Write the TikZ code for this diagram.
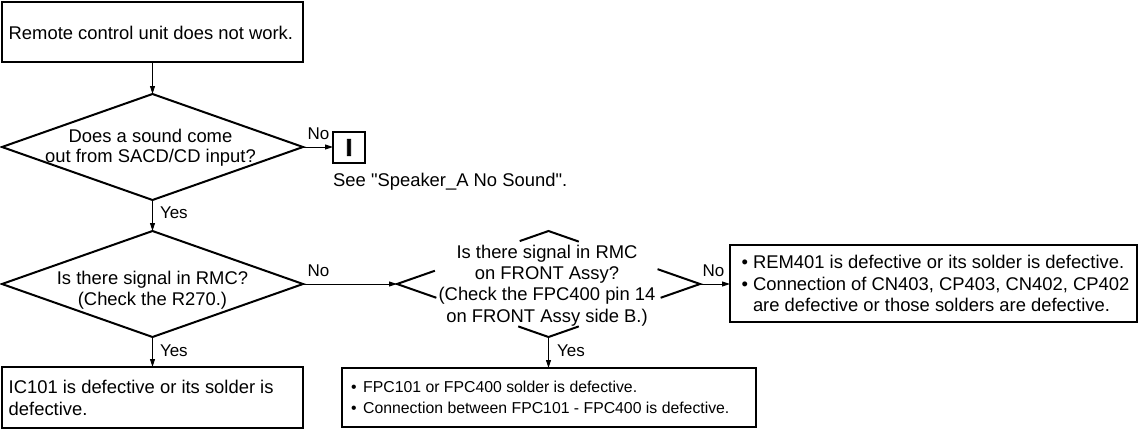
\documentclass[tikz,border=0pt]{standalone}
\usepackage{fontspec}
\setmainfont{Liberation Sans}
\newfontfamily\heavyfont{Liberation Sans}[BoldFeatures={FakeBold=2.5}]
\usetikzlibrary{shapes.geometric,arrows.meta,calc}
% bullet set in a box of fixed width, so that item texts line up
\newcommand\bulitem[1]{\makebox[#1][l]{\textbullet}}

\begin{document}
\begin{tikzpicture}[x=1pt,y=-1pt,
  body/.style={font=\fontsize{18.4}{21.3}\selectfont},
  small/.style={font=\fontsize{15.8}{21}\selectfont},
  lbl/.style={font=\fontsize{17}{20}\selectfont, inner sep=0pt},
  frame/.style={draw, line width=2.6pt, rectangle, outer sep=0pt, inner sep=0pt},
  boxtext/.style={body, align=left, inner sep=0pt, anchor=west},
  decision/.style={diamond, draw, line width=2pt, line join=miter, inner sep=0pt, outer sep=0pt},
  edgeline/.style={line width=2pt, line join=miter},
  question/.style={body, align=center, inner sep=0pt},
  flow/.style={line width=1pt, -{Triangle[length=8pt,width=5pt]}},
]
\useasboundingbox (0,0) rectangle (1139,431);

% start box
\node[frame, minimum width=301pt, minimum height=60pt] (start) at (152.5,32) {};
\node[boxtext] (starttext) at ($(start.west)+(6.5,0.5)$) {Remote control unit does not work.};

% first question
\node[decision, minimum width=301pt, minimum height=106pt] (d1) at (152.5,147) {};
\node[question, font=\fontsize{18.4}{20}\selectfont] (q1) at (150.5,147.3) {Does a sound come\\out from SACD/CD input?};

% reference mark and note
\node[frame, minimum width=32pt, minimum height=31pt, font=\heavyfont\bfseries\fontsize{24}{24}\selectfont] (ref) at (349,147.5) {I};
\node[body, anchor=base west, inner sep=0pt] (see) at (333,186) {See \textquotedbl Speaker\_A No Sound\textquotedbl.};

% second question
\node[decision, minimum width=301pt, minimum height=106pt] (d2) at (152.5,284) {};
\node[question] (q2) at (152.5,290.4) {Is there signal in RMC?\\(Check the R270.)};

% result box below second question
\node[frame, minimum width=301pt, minimum height=61pt] (ic) at (152.5,397.5) {};
\node[boxtext] (ictext) at ($(ic.west)+(6.5,0.3)$) {IC101 is defective or its solder is\\defective.};

% third question: diamond outline broken around its text
\node[decision, draw=none, minimum width=303pt, minimum height=106pt] (d3) at (548.5,284) {};
\draw[edgeline] ($(d3.west)!0.25!(d3.north)$) -- (d3.west) -- ($(d3.west)!0.26!(d3.south)$);
\draw[edgeline] ($(d3.north)!0.19!(d3.west)$) -- (d3.north) -- ($(d3.north)!0.2!(d3.east)$);
\draw[edgeline] ($(d3.east)!0.28!(d3.north)$) -- (d3.east) -- ($(d3.east)!0.26!(d3.south)$);
\draw[edgeline] ($(d3.south)!0.2!(d3.west)$) -- (d3.south) -- ($(d3.south)!0.2!(d3.east)$);
\node[question] (q3) at (547,285.3) {Is there signal in RMC\\on FRONT Assy?\\(Check the FPC400 pin 14\\on FRONT Assy side B.)};

% result boxes of third question
\node[frame, minimum width=407pt, minimum height=77pt] (rbox) at (933.5,283.5) {};
\node[boxtext] (rboxtext) at ($(rbox.west)+(11.5,0)$) {\bulitem{11.3pt}REM401 is defective or its solder is defective.\\\bulitem{11.3pt}Connection of CN403, CP403, CN402, CP402\\\hspace*{11.3pt}are defective or those solders are defective.};
\node[frame, minimum width=414pt, minimum height=59pt] (fpc) at (549,397.5) {};
\node[boxtext, small] (fpctext) at ($(fpc.west)+(9,0)$) {\bulitem{12pt}FPC101 or FPC400 solder is defective.\\\bulitem{12pt}Connection between FPC101 - FPC400 is defective.};

% connectors
\draw[flow] (start.south) -- (d1.north);
\draw[flow] (d1.east) -- (d1.east -| ref.west) node[lbl, pos=0, anchor=base west, xshift=4pt, yshift=8pt] (no1) {No};
\draw[flow] (d1.south) -- (d2.north) node[lbl, pos=0, anchor=base west, xshift=7pt, yshift=-18pt] (yes1) {Yes};
\draw[flow] (d2.east) -- (d3.west) node[lbl, pos=0, anchor=base west, xshift=4pt, yshift=8pt] (no2) {No};
\draw[flow] (d2.south) -- (ic.north) node[lbl, pos=0, anchor=base west, xshift=7pt, yshift=-19pt] (yes2) {Yes};
\draw[flow] (d3.east) -- (d3.east -| rbox.west) node[lbl, pos=0, anchor=base west, xshift=2pt, yshift=8pt] (no3) {No};
\draw[flow] (d3.south) -- (d3.south |- fpc.north) node[lbl, pos=0, anchor=base west, xshift=8pt, yshift=-19pt] (yes3) {Yes};
\end{tikzpicture}
\end{document}
